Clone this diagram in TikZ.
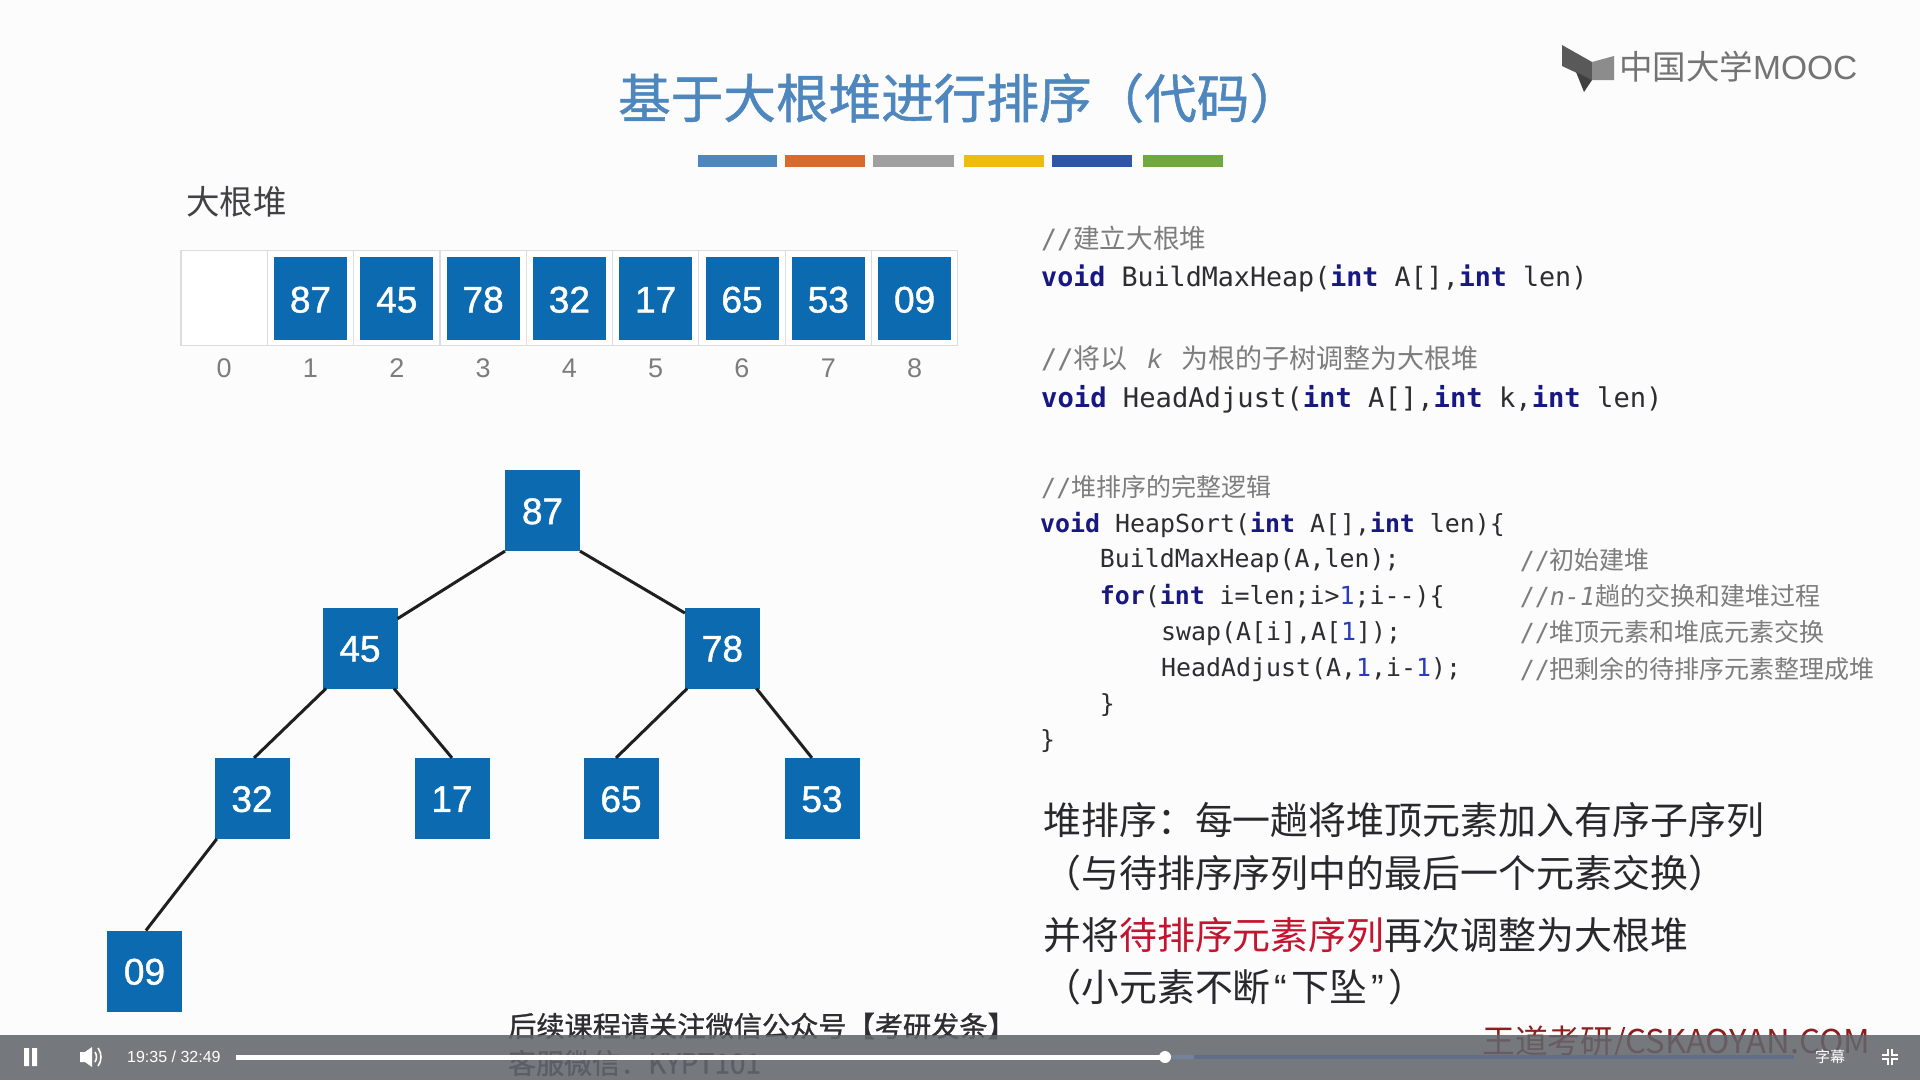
\documentclass[tikz,border=0pt]{standalone}
\usepackage{fontspec}
\setmainfont{Liberation Sans}
\setmonofont{DejaVu Sans Mono}
\newfontfamily\cjk{Noto Sans CJK SC}
\newfontfamily\cjkmed[FakeBold=1]{Noto Sans CJK SC}
\newfontfamily\keyfont[FakeBold=1.2]{Liberation Sans}
\usetikzlibrary{positioning}
\definecolor{heapblue}{RGB}{12,107,176}
\definecolor{titleblue}{RGB}{78,134,190}
\definecolor{navy}{RGB}{24,24,130}
\definecolor{numblue}{RGB}{40,60,190}
\definecolor{ink}{RGB}{45,45,50}
\definecolor{note}{RGB}{125,125,125}
\definecolor{cellline}{RGB}{218,220,224}
\definecolor{barfill}{RGB}{98,102,108}
\definecolor{mark}{RGB}{196,20,48}
\definecolor{wmred}{RGB}{140,30,30}
\definecolor{rustbar}{RGB}{217,106,43}
\definecolor{greybar}{RGB}{160,160,160}
\definecolor{goldbar}{RGB}{240,187,16}
\definecolor{bluebar}{RGB}{47,85,168}
\definecolor{greenbar}{RGB}{111,168,60}
\definecolor{trackrest}{RGB}{96,110,134}
\definecolor{trackload}{RGB}{116,130,155}
\newcommand{\px}[1]{\fontsize{#1}{#1}\selectfont}
\newcommand{\kw}[1]{\textcolor{navy}{\bfseries #1}}
\newcommand{\nm}[1]{\textcolor{numblue}{#1}}
\newcommand{\cm}[1]{{\ttfamily //}{\cjk #1}}
\tikzset{
  x=1pt,y=-1pt,
  cell/.style={draw=cellline,line width=1.2pt,fill=white,minimum width=86.3pt,minimum height=95pt,inner sep=0pt,outer sep=0pt},
  keybox/.style={fill=heapblue,text=white,minimum width=#1,inner sep=0pt,outer sep=0pt,text height=29pt,text depth=0pt,font=\px{37}\keyfont},
  keybox/.default=73pt,
  treebox/.style={keybox=75pt,minimum height=81pt,text height=27pt},
  edge/.style={line width=3pt,draw=black!88},
  idx/.style={text=note,font=\px{27},inner sep=0pt},
  code/.style={anchor=west,inner sep=0pt,text=ink,font=\px{#1}\ttfamily},
  code/.default=24.9,
  cmt/.style={anchor=west,inner sep=0pt,text=note,font=\px{#1}},
  cmt/.default=25,
  say/.style={anchor=west,inner sep=0pt,text=ink!90!black,font=\px{37.95}\cjk},
  wm/.style={anchor=west,inner sep=0pt,font=\px{#1}\cjkmed,text=ink},
}
\begin{document}
\begin{tikzpicture}
  \useasboundingbox (0,0) rectangle (1920,1080);
  \fill[white!99!black] (0,0) rectangle (1920,1080);
  \node[anchor=west,inner sep=0pt,text=titleblue,font=\px{52.6}\cjkmed] (title) at (618,98) {基于大根堆进行排序（代码）};
  \foreach \x/\w/\c [count=\i] in {698/79/titleblue,785/80/rustbar,873/81/greybar,964/80/goldbar,1052/80/bluebar,1143/80/greenbar}
    \fill[\c] (\x,155) rectangle ++(\w,12);
  % logo
  \fill[black!65] (1562,45) -- (1592,62) -- (1592,80) -- (1562,66) -- cycle;
  \fill[black!45] (1592,62) -- (1614,56) -- (1614,80) -- (1592,80) -- cycle;
  \fill[black!75] (1576,72) -- (1592,80) -- (1584,92) -- cycle;
  \node[anchor=west,inner sep=0pt,text=black!55,font=\px{33.5}\cjk] (logo) at (1619,67) {中国大学{\rmfamily MOOC}};
  % array
  \node[anchor=west,inner sep=0pt,text=ink!90,font=\px{33.5}\cjk] (heapname) at (186,202) {大根堆};
  \foreach \v [count=\i from 0] in {,87,45,78,32,17,65,53,09}{
    \node[cell] (c\i) at (224.2+86.3*\i,298) {};
    \node[idx] (n\i) at (224.2+86.3*\i,368) {\i};
  }
  \foreach \v [count=\i] in {87,45,78,32,17,65,53,09}
    \node[keybox,minimum height=83pt] (a\i) at (c\i) {\v};
  % tree
  \node[treebox] (t87) at (542.5,510.6) {87};
  \node[treebox] (t45) at (360,648) {45};
  \node[treebox] (t78) at (722.4,648) {78};
  \node[treebox] (t32) at (252,798.4) {32};
  \node[treebox] (t17) at (452,798.4) {17};
  \node[treebox] (t65) at (621,798.4) {65};
  \node[treebox] (t53) at (822,798.4) {53};
  \node[treebox] (t09) at (144.5,971) {09};
  \draw[edge] (t87.south west) -- (t45.38);
  \draw[edge] (t87.south east) -- (t78.137);
  \draw[edge] (t45.-130) -- (t32.87);
  \draw[edge] (t45.-50) -- (t17.north);
  \draw[edge] (t78.-131) -- (t65.97);
  \draw[edge] (t78.-50) -- (t53.104);
  \draw[edge] (t32.-131) -- (t09.88);
  % code
  \node[cmt=26.6] (l1) at (1041,238) {\cm{建立大根堆}};
  \node[code=26.68] (l2) at (1041,278) {\kw{void} BuildMaxHeap(\kw{int} A[],\kw{int} len)};
  \node[cmt=27] (l3) at (1041,358.5) {\cm{将以}\hspace{.75em}{\itshape k}\hspace{.75em}{\cjk 为根的子树调整为大根堆}};
  \node[code=27.16] (l4) at (1041,399.5) {\kw{void} HeadAdjust(\kw{int} A[],\kw{int} k,\kw{int} len)};
  \node[cmt] (l5) at (1041,487) {\cm{堆排序的完整逻辑}};
  \node[code] (l6) at (1040,524.5) {\kw{void} HeapSort(\kw{int} A[],\kw{int} len)\{};
  \node[code] (l7) at (1099.6,561) {BuildMaxHeap(A,len);};
  \node[code] (l8) at (1099.6,596.5) {\kw{for}(\kw{int} i=len;i>\nm{1};i--)\{};
  \node[code] (l9) at (1161,633.5) {swap(A[i],A[\nm{1}]);};
  \node[code] (l10) at (1161,670) {HeadAdjust(A,\nm{1},i-\nm{1});};
  \node[code] (l11) at (1099.6,705) {\}};
  \node[code] (l12) at (1040,741) {\}};
  \node[cmt] (m7) at (1519.6,560.5) {\cm{初始建堆}};
  \node[cmt] (m8) at (1519.6,596) {{\ttfamily //\itshape n-1}{\cjk 趟的交换和建堆过程}};
  \node[cmt] (m9) at (1519.6,632.5) {\cm{堆顶元素和堆底元素交换}};
  \node[cmt] (m10) at (1519.6,669) {\cm{把剩余的待排序元素整理成堆}};
  % summary
  \node[say] (s1) at (1043,820) {堆排序：每一趟将堆顶元素加入有序子序列};
  \node[say] (s2) at (1043,873) {（与待排序序列中的最后一个元素交换）};
  \node[say] (s3) at (1043,935) {并将\textcolor{mark}{待排序元素序列}再次调整为大根堆};
  \node[say] (s4) at (1043,987) {（小元素不断\hspace{4pt}{\rmfamily “}\hspace{4pt}下坠\hspace{4pt}{\rmfamily ”}\hspace{4pt}）};
  % watermarks, then the player bar over them
  \node[wm=28.2] (w1) at (508,1026) {后续课程请关注微信公众号【考研发条】};
  \node[wm=28] (w2) at (508,1063) {客服微信：KYPT101};
  \node[anchor=west,inner sep=0pt,text=wmred,font=\px{32.8}\cjk] (w3) at (1482,1043) {王道考研/CSKAOYAN.COM};
  \fill[barfill,opacity=.87] (0,1035) rectangle (1920,1080);
  \fill[white] (24,1048) rectangle (29,1066) (32,1048) rectangle (37,1066);
  \fill[white] (80,1052) -- (85,1052) -- (92,1047) -- (92,1067) -- (85,1062) -- (80,1062) -- cycle;
  \draw[white,line width=1.6pt] (95,1052) .. controls (97,1055) and (97,1059) .. (95,1062);
  \draw[white,line width=1.6pt] (98,1048) .. controls (102,1053) and (102,1061) .. (98,1066);
  \node[anchor=west,inner sep=0pt,text=white,font=\px{16}] (clock) at (127,1057) {19:35 / 32:49};
  \fill[trackrest] (1165,1055) rectangle (1794,1059);
  \fill[trackload] (1165,1055) rectangle (1194,1059);
  \fill[white] (236,1054.5) rectangle (1165,1059.5);
  \fill[white] (1165,1057) circle (6);
  \node[inner sep=0pt,text=white,font=\px{15}\cjk] (subs) at (1830,1057) {字幕};
  \foreach \s in {1,-1}{
    \draw[white,line width=1.8pt] (1890-2*\s,1049) -- (1890-2*\s,1055) -- (1890-8*\s,1055);
    \draw[white,line width=1.8pt] (1890-2*\s,1065) -- (1890-2*\s,1059) -- (1890-8*\s,1059);
  }
\end{tikzpicture}
\end{document}
